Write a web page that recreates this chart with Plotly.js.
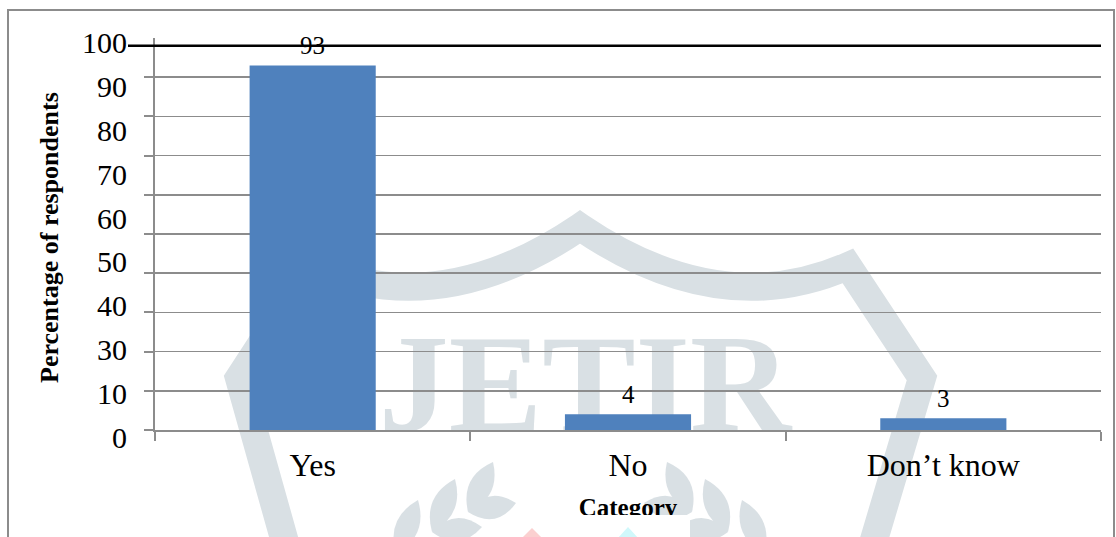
<!DOCTYPE html>
<html>
<head>
<meta charset="utf-8">
<script src="https://cdn.plot.ly/plotly-3.0.1.min.js"></script>
<style>html,body{margin:0;padding:0;background:#fff;}#chart{width:1116px;height:537px;}</style>
</head>
<body>
<div id="chart"></div>
<script>
// ---- data ----
const categories = ['Yes', 'No', 'Don’t know'];
const values = [93, 4, 3];
const gridVals = [0, 10, 20, 30, 40, 50, 60, 70, 80, 90];
const yTickLabels = ['100', '90', '80', '70', '60', '50', '40', '30', '10', '0'];
const yTitle = 'Percentage of respondents';
const xTitle = 'Category';
const watermarkText = 'JETIR';

// ---- geometry helpers (pixel -> paper) ----
const W = 1116, H = 537;
const M = {l: 155, r: 15, t: 38, b: 92};
const PW = W - M.l - M.r, PH = H - M.t - M.b;
const X = px => (px - M.l) / PW;
const Y = py => (H - M.b - py) / PH;
const P = (x, y) => X(x).toFixed(5) + ',' + Y(y).toFixed(5);

const axisGray = '#8c8c8c';
const wm = '#d9e0e4';
const serif = 'Liberation Serif, Times New Roman, serif';

// watermark: shield outline
const shieldPath =
  'M' + P(290, 560) + ' L' + P(239, 378) + ' L' + P(312, 266) +
  ' Q' + P(440, 322) + ' ' + P(580, 227) +
  ' Q' + P(720, 322) + ' ' + P(848, 266) +
  ' L' + P(922, 378) + ' L' + P(868, 560);

// watermark: laurel leaves (base, tip up, tip side), left branch; mirrored about x=580
const leafPairs = [
  [[468, 512], [493, 462], [516, 503]],
  [[432, 532], [455, 479], [482, 527]],
  [[396, 554], [418, 500], [448, 550]]
];
function leafPath(b, t, w) {
  const mx = (b[0] + t[0]) / 2, my = (b[1] + t[1]) / 2;
  const dx = t[0] - b[0], dy = t[1] - b[1];
  const L = Math.hypot(dx, dy), nx = -dy / L * w, ny = dx / L * w;
  return 'M' + P(b[0], b[1]) + ' Q' + P(mx + nx, my + ny) + ' ' + P(t[0], t[1]) +
         ' Q' + P(mx - nx, my - ny) + ' ' + P(b[0], b[1]) + ' Z';
}
const leafShapes = [];
leafPairs.forEach(([b, t1, t2]) => {
  [[b, t1], [b, t2]].forEach(([bb, tt]) => {
    leafShapes.push(leafPath(bb, tt, 23));
    leafShapes.push(leafPath([1160 - bb[0], bb[1]], [1160 - tt[0], tt[1]], 23));
  });
});

const trace = {
  type: 'bar',
  x: categories,
  y: values,
  marker: {color: '#4f81bd', line: {width: 0}},
  hoverinfo: 'none',
  showlegend: false
};

// empty helper trace so the label axis (y2) is drawn
const labelAxisTrace = {
  type: 'scatter', x: [], y: [], yaxis: 'y2', xaxis: 'x',
  hoverinfo: 'none', showlegend: false
};

const valueLabels = categories.map((c, i) => ({
  x: c, y: values[i], xref: 'x', yref: 'y',
  text: String(values[i]), showarrow: false,
  yanchor: 'middle', yshift: 20,
  font: {family: serif, size: 25, color: '#000'}
}));

const layout = {
  width: W, height: H,
  margin: M,
  paper_bgcolor: '#fff',
  plot_bgcolor: 'rgba(0,0,0,0)',
  showlegend: false,
  bargap: 0.6,
  xaxis: {
    type: 'category', anchor: 'y',
    showline: true, linecolor: axisGray, linewidth: 2,
    ticks: 'outside', tickson: 'boundaries', ticklen: 9, tickwidth: 2, tickcolor: axisGray,
    ticklabelstandoff: 6,
    showgrid: false, zeroline: false,
    tickfont: {family: serif, size: 32, color: '#000'}
  },
  yaxis: {
    domain: [Y(430), 1], anchor: 'x',
    range: [0, 100],
    tickvals: gridVals, showticklabels: false,
    ticks: 'outside', ticklen: 9, tickwidth: 2, tickcolor: axisGray,
    showline: true, linecolor: axisGray, linewidth: 2,
    showgrid: true, gridcolor: axisGray, gridwidth: 1.6,
    zeroline: false
  },
  yaxis2: {
    domain: [0, 1], anchor: 'x',
    range: [-(445 - 437) / 43.78, (437 - 38) / 43.78],
    tickvals: yTickLabels.map((_, i) => yTickLabels.length - 1 - i),
    ticktext: yTickLabels,
    ticks: 'outside', ticklen: 21, tickcolor: 'rgba(0,0,0,0)',
    showline: false, showgrid: false, zeroline: false,
    tickfont: {family: serif, size: 30, color: '#000'}
  },
  shapes: [
    {type: 'path', xref: 'paper', yref: 'paper', path: shieldPath, layer: 'below',
     line: {color: wm, width: 28}},
  ].concat(leafShapes.map(p => ({
    type: 'path', xref: 'paper', yref: 'paper', path: p, layer: 'below',
    line: {width: 0}, fillcolor: wm
  }))).concat([
    {type: 'rect', xref: 'paper', yref: 'paper', layer: 'below',
     x0: X(380), x1: X(790), y0: Y(415), y1: Y(321),
     line: {width: 0}, fillcolor: 'rgba(0,0,0,0)',
     label: {text: '<b>' + watermarkText + '</b>', textposition: 'middle center',
             font: {family: serif, size: 140, color: wm}}},
    {type: 'line', xref: 'paper', yref: 'paper',
     x0: X(128), x1: X(1101), y0: Y(45.7), y1: Y(45.7),
     line: {color: '#000', width: 2.5}},
    {type: 'rect', xref: 'paper', yref: 'paper',
     x0: X(8), x1: X(1114), y0: Y(10), y1: Y(560),
     line: {color: axisGray, width: 2}, fillcolor: 'rgba(0,0,0,0)'},
    // x-axis title (cut off at its bottom, as in the reference)
    {type: 'rect', xref: 'paper', yref: 'paper',
     x0: X(560), x1: X(696), y0: Y(516), y1: Y(492),
     line: {width: 0}, fillcolor: 'rgba(0,0,0,0)',
     label: {text: '<b>' + xTitle + '</b>', textposition: 'middle center',
             font: {family: serif, size: 25, color: '#000'}}},
    {type: 'rect', xref: 'paper', yref: 'paper',
     x0: X(566), x1: X(690), y0: Y(537), y1: Y(515),
     line: {width: 0}, fillcolor: '#fff'},
    {type: 'path', xref: 'paper', yref: 'paper',
     path: 'M' + P(532, 528) + ' L' + P(521, 539) + ' L' + P(543, 539) + ' Z',
     line: {width: 0}, fillcolor: '#fbd0d0'},
    {type: 'path', xref: 'paper', yref: 'paper',
     path: 'M' + P(628, 527) + ' L' + P(617, 539) + ' L' + P(639, 539) + ' Z',
     line: {width: 0}, fillcolor: '#d0f8fb'}
  ]),
  annotations: valueLabels.concat([
    {xref: 'paper', yref: 'paper', x: X(50), y: Y(238), text: '<b>' + yTitle + '</b>',
     textangle: -90, showarrow: false, xanchor: 'center', yanchor: 'middle',
     font: {family: serif, size: 26, color: '#000'}}
  ])
};

Plotly.newPlot('chart', [trace, labelAxisTrace], layout, {staticPlot: true, displayModeBar: false});
</script>
</body>
</html>
